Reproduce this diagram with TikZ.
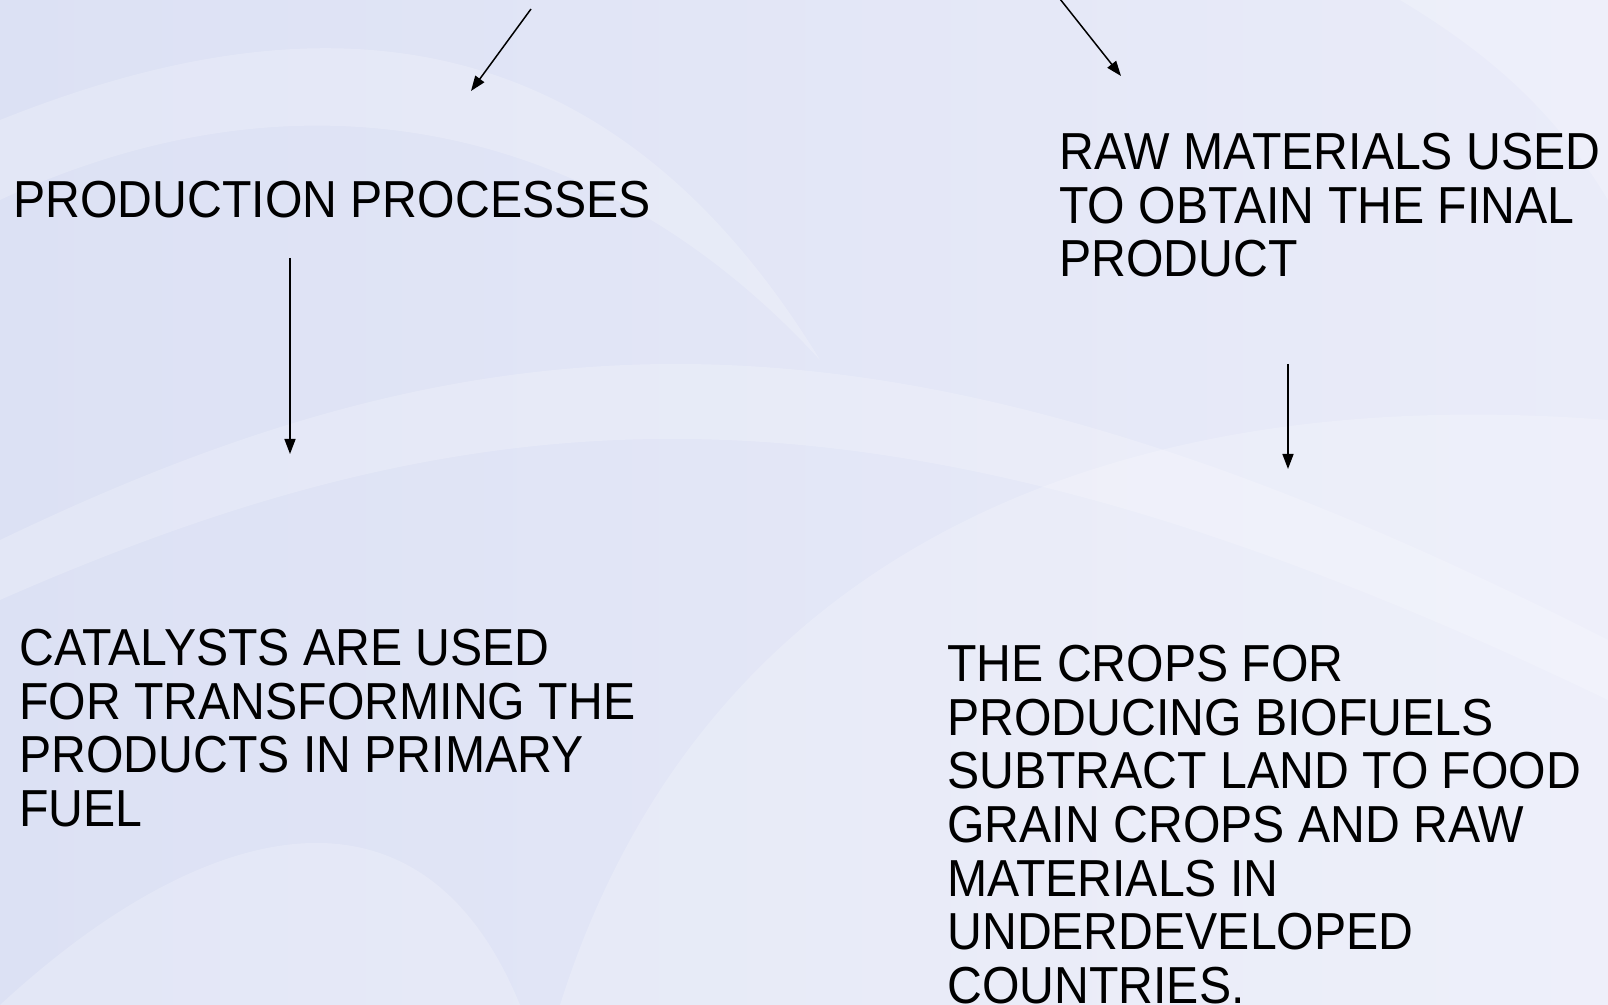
\documentclass[tikz,border=0pt]{standalone}
\usepackage{fontspec}
\setmainfont{Liberation Sans}
\usetikzlibrary{arrows.meta}
\definecolor{bgleft}{RGB}{220,225,244}
\definecolor{bgright}{RGB}{234,236,249}
\begin{document}
	\begin{tikzpicture}
		[x=0.5pt, y=-0.5pt,
		txt/.style={anchor=north west, inner sep=0pt, align=left, yscale=1.08,
			font=\fontsize{24.1pt}{24.8pt}\selectfont},
		arr/.style={line width=0.75pt, -{Triangle[length=7.5pt,width=5.5pt]}},
		swoosh/.style={fill=white, opacity=0.2}]
		% background
		\useasboundingbox (0,0) rectangle (1608,1005);
		\shade[left color=bgleft, right color=bgright] (0,0) rectangle (1608,1005);
		\fill[swoosh] (0,1005) .. controls (200,820) and (420,760) .. (520,1005) -- cycle;
		\fill[swoosh] (0,540) .. controls (500,300) and (900,280) .. (1608,640) -- (1608,700) .. controls (900,360) and (500,380) .. (0,600) -- cycle;
		\fill[swoosh] (560,1005) .. controls (700,560) and (1100,380) .. (1608,420) -- (1608,1005) -- cycle;
		\fill[swoosh] (1400,0) .. controls (1500,60) and (1560,120) .. (1608,200) -- (1608,0) -- cycle;
		\fill[swoosh] (0,120) .. controls (300,0) and (600,0) .. (820,360) .. controls (600,120) and (300,60) .. (0,200) -- cycle;
		% texts
		\node[txt] (prod) at (13,181) {PRODUCTION PROCESSES};
		\node[txt] (raw) at (1059,133) {RAW MATERIALS USED\\TO OBTAIN THE FINAL\\PRODUCT};
		\node[txt] (cat) at (19,629) {CATALYSTS ARE USED\\FOR TRANSFORMING THE\\PRODUCTS IN PRIMARY\\FUEL};
		\node[txt] (crops) at (947,645) {THE CROPS FOR\\PRODUCING BIOFUELS\\SUBTRACT LAND TO FOOD\\GRAIN CROPS AND RAW\\MATERIALS IN\\UNDERDEVELOPED\\COUNTRIES.};
		% arrows
		\coordinate (prodin) at (531,9);
		\coordinate (prodtip) at (471,91);
		\coordinate (rawin) at (1060,-1);
		\coordinate (rawtip) at (1121,76);
		\coordinate (catin) at (290,258);
		\coordinate (cattip) at (290,454);
		\coordinate (cropsin) at (1288,364);
		\coordinate (cropstip) at (1288,469);
		\draw[arr] (prodin) -- (prodtip);
		\draw[arr] (rawin) -- (rawtip);
		\draw[arr] (catin) -- (cattip);
		\draw[arr] (cropsin) -- (cropstip);
	\end{tikzpicture}
\end{document}
